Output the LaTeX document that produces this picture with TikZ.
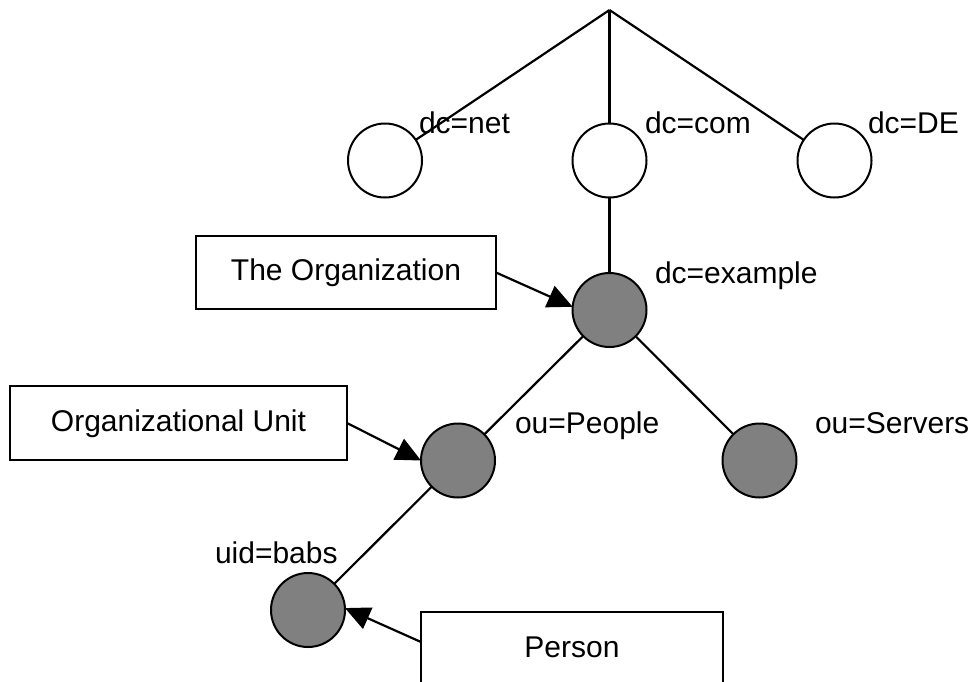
\documentclass[tikz,border=0pt]{standalone}
\usepackage{fontspec}
\setmainfont{Liberation Sans}
\usetikzlibrary{arrows.meta}
\definecolor{nodegray}{HTML}{808080}
\begin{document}
\begin{tikzpicture}[x=1pt, y=-1pt,
  every node/.style={font=\fontsize{30}{36}\selectfont, inner sep=0pt, outer sep=0pt},
  treenode/.style={circle, draw, line width=2pt, minimum size=74pt, fill=white},
  entry/.style={treenode, fill=nodegray},
  lbl/.style={anchor=base west},
  infobox/.style={draw, line width=2.6pt, rectangle, fill=white, text height=22pt, text depth=6pt},
  link/.style={line width=2.2pt, line join=miter},
  pointer/.style={line width=2.2pt, -{Triangle[length=25pt,width=23pt]}}]
\useasboundingbox (0,0) rectangle (977,681);
\clip (0,0) rectangle (977,681);
\fill[white] (0,0) rectangle (977,681);

\coordinate (root) at (609.5,10);
\node[treenode] (net) at (385,160.5) {};
\node[treenode] (com) at (609.5,160.5) {};
\node[treenode] (de) at (834.5,160.5) {};
\node[entry] (ex) at (609.5,310) {};
\node[entry] (people) at (458,460.5) {};
\node[entry] (servers) at (759.5,460.5) {};
\node[entry] (babs) at (308,610) {};

\node[lbl] (netlbl) at (419,133) {dc=net};
\node[lbl] (comlbl) at (645,133) {dc=com};
\node[lbl] (delbl) at (868,133) {dc=DE};
\node[lbl] (exlbl) at (655,283) {dc=example};
\node[lbl] (peoplelbl) at (515,433) {ou=People};
\node[lbl] (serverslbl) at (815,433) {ou=Servers};
\node[lbl] (babslbl) at (215,563) {uid=babs};

\node[infobox, minimum width=300pt, minimum height=73pt] (org) at (346,272.5) {The Organization};
\node[infobox, minimum width=337pt, minimum height=74pt] (unit) at (178.5,423) {Organizational Unit};
\node[infobox, minimum width=302pt, minimum height=74pt] (person) at (572,649) {Person};

\draw[link] (root) -- (net);
\draw[link] (root) -- (com);
\draw[link] (root) -- (de);
\draw[link] (com) -- (ex);
\draw[link] (ex) -- (people);
\draw[link] (ex) -- (servers);
\draw[link] (people) -- (babs);

\draw[pointer] (org.east) -- (ex.175);
\draw[pointer] (unit.east) -- (people.west);
\draw[pointer] ([yshift=7pt]person.west) -- (babs.3);
\end{tikzpicture}
\end{document}
